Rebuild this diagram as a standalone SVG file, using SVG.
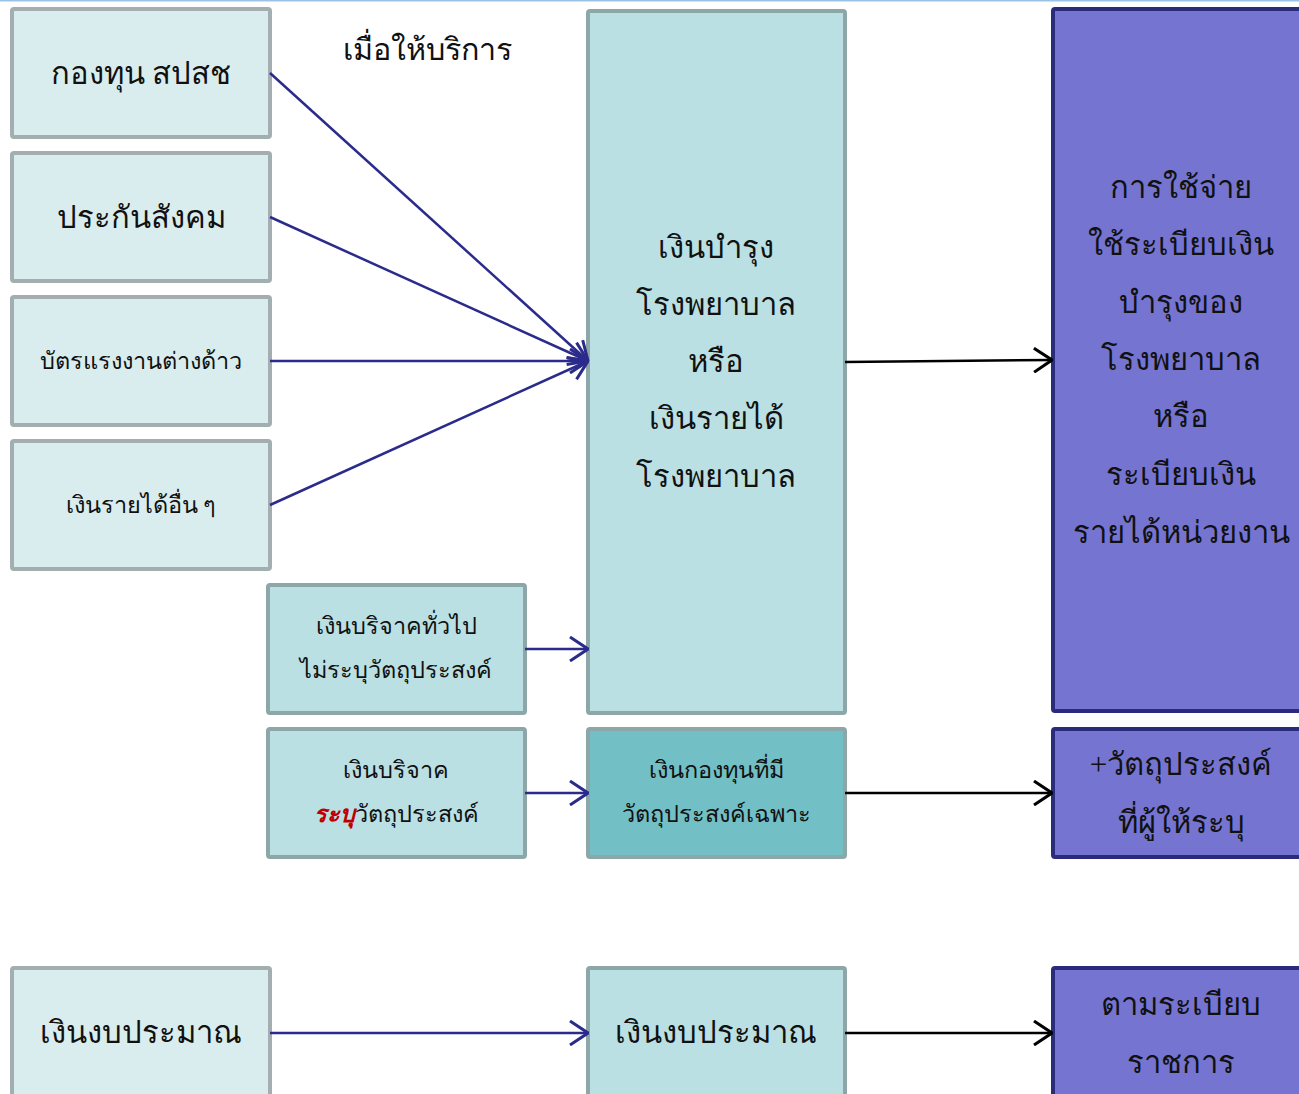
<svg xmlns="http://www.w3.org/2000/svg" width="1299" height="1094" viewBox="0 0 1299 1094">
<style>
.t{font-family:"Liberation Serif","Noto Sans","DejaVu Sans",serif;fill:#111;text-anchor:middle;dominant-baseline:central}
.l{font-size:31px}.s{font-size:23.5px}
.a{fill:#DAEDEE;stroke:#A2AEB0;stroke-width:4}
.b{fill:#BAE0E3;stroke:#8DA7A9;stroke-width:4}
.c{fill:#72BFC6;stroke:#8DA7A9;stroke-width:4}
.d{fill:#7575D1;stroke:#2B2B7C;stroke-width:4}
.cb{stroke:#2B2B8C;stroke-width:2.5;fill:none}
.ck{stroke:#000;stroke-width:2.5;fill:none}
</style>
<defs>
<marker id="mb" viewBox="0 0 20 26" refX="19" refY="13" markerWidth="20" markerHeight="26" markerUnits="userSpaceOnUse" orient="auto"><path d="M1,1 L19,13 L1,25" fill="none" stroke="#2B2B8C" stroke-width="3"/></marker>
<marker id="mk" viewBox="0 0 20 26" refX="19" refY="13" markerWidth="20" markerHeight="26" markerUnits="userSpaceOnUse" orient="auto"><path d="M1,1 L19,13 L1,25" fill="none" stroke="#000" stroke-width="3"/></marker>
</defs>
<rect width="1299" height="1094" fill="#fff"/>
<line x1="0" y1="0.5" x2="1299" y2="0.5" stroke="#9CC3E6" stroke-width="2"/>
<g id="n1"><rect class="a" x="12" y="9" width="258" height="128" rx="2"/><text class="t l" x="141" y="73">กองทุน สปสช</text></g>
<g id="n2"><rect class="a" x="12" y="153" width="258" height="128" rx="2"/><text class="t l" x="141" y="217">ประกันสังคม</text></g>
<g id="n3"><rect class="a" x="12" y="297" width="258" height="128" rx="2"/><text class="t s" x="141" y="361">บัตรแรงงานต่างด้าว</text></g>
<g id="n4"><rect class="a" x="12" y="441" width="258" height="128" rx="2"/><text class="t s" x="141" y="505">เงินรายได้อื่น ๆ</text></g>
<g id="n5"><rect class="b" x="268" y="585" width="257" height="128" rx="2"/><text class="t s" x="396" y="626">เงินบริจาคทั่วไป</text><text class="t s" x="396" y="670">ไม่ระบุวัตถุประสงค์</text></g>
<g id="n6"><rect class="b" x="268" y="729" width="257" height="128" rx="2"/><text class="t s" x="396" y="770">เงินบริจาค</text><text class="t s" x="396" y="814"><tspan fill="#C00000" font-style="italic" font-weight="bold">ระบุ</tspan>วัตถุประสงค์</text></g>
<g id="n7"><rect class="b" x="588" y="11" width="257" height="702" rx="2"/>
<text class="t l" x="716" y="247">เงินบำรุง</text><text class="t l" x="716" y="304">โรงพยาบาล</text><text class="t l" x="716" y="361">หรือ</text><text class="t l" x="716" y="418">เงินรายได้</text><text class="t l" x="716" y="476">โรงพยาบาล</text></g>
<g id="n8"><rect class="c" x="588" y="729" width="257" height="128" rx="2"/><text class="t s" x="716" y="770">เงินกองทุนที่มี</text><text class="t s" x="716" y="814">วัตถุประสงค์เฉพาะ</text></g>
<g id="n9"><rect class="d" x="1053" y="9" width="250" height="702" rx="2"/>
<text class="t l" x="1181" y="187">การใช้จ่าย</text><text class="t l" x="1181" y="244">ใช้ระเบียบเงิน</text><text class="t l" x="1181" y="302">บำรุงของ</text><text class="t l" x="1181" y="359">โรงพยาบาล</text><text class="t l" x="1181" y="416">หรือ</text><text class="t l" x="1181" y="474">ระเบียบเงิน</text><text class="t l" x="1181" y="532">รายได้หน่วยงาน</text></g>
<g id="n10"><rect class="d" x="1053" y="729" width="250" height="128" rx="2"/><text class="t l" x="1181" y="764">+วัตถุประสงค์</text><text class="t l" x="1181" y="822">ที่ผู้ให้ระบุ</text></g>
<g id="n11"><rect class="a" x="12" y="968" width="258" height="140" rx="2"/><text class="t l" x="141" y="1032">เงินงบประมาณ</text></g>
<g id="n12"><rect class="b" x="588" y="968" width="257" height="140" rx="2"/><text class="t l" x="716" y="1032">เงินงบประมาณ</text></g>
<g id="n13"><rect class="d" x="1053" y="968" width="250" height="140" rx="2"/><text class="t l" x="1181" y="1004">ตามระเบียบ</text><text class="t l" x="1181" y="1062">ราชการ</text></g>
<text class="t l" x="427" y="50" style="font-size:30.5px">เมื่อให้บริการ</text>
<g id="connectors">
<line class="cb" x1="270" y1="73" x2="588" y2="361" marker-end="url(#mb)"/>
<line class="cb" x1="270" y1="217" x2="588" y2="361" marker-end="url(#mb)"/>
<line class="cb" x1="270" y1="361" x2="588" y2="361" marker-end="url(#mb)"/>
<line class="cb" x1="270" y1="505" x2="588" y2="361" marker-end="url(#mb)"/>
<line class="cb" x1="525" y1="649" x2="588" y2="649" marker-end="url(#mb)"/>
<line class="cb" x1="525" y1="793" x2="588" y2="793" marker-end="url(#mb)"/>
<line class="ck" x1="845" y1="362" x2="1052" y2="360" marker-end="url(#mk)"/>
<line class="ck" x1="845" y1="793" x2="1052" y2="793" marker-end="url(#mk)"/>
<line class="cb" x1="270" y1="1033" x2="588" y2="1033" marker-end="url(#mb)"/>
<line class="ck" x1="845" y1="1033" x2="1052" y2="1033" marker-end="url(#mk)"/>
</g>
</svg>
